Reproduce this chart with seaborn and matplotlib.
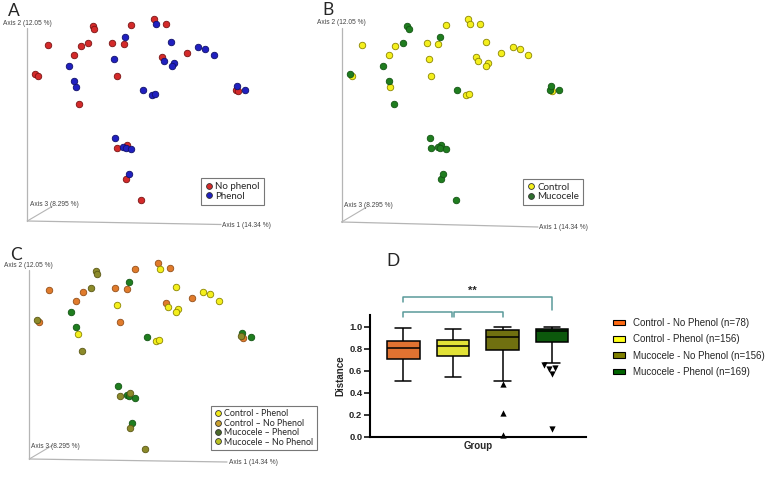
import numpy as np
import pandas as pd
import matplotlib.pyplot as plt
import seaborn as sb
from matplotlib.lines import Line2D
from matplotlib.patches import Patch

sb.set_style("white")
plt.rcParams['font.family'] = ['Liberation Sans', 'DejaVu Sans']

# PCoA samples, projected positions on the 3D view (panel A screen units, y down)
pc_x = [153.7, 165.7, 131.3, 93.0, 94.3, 47.7, 80.7, 88.3, 112.3, 123.7, 74.3, 161.7,
        187.0, 35.3, 38.0, 117.0, 79.3, 235.7, 237.7, 126.7, 117.0, 126.3, 141.3,
        156.0, 125.3, 171.3, 198.3, 205.3, 213.7, 114.3, 164.0, 173.7, 172.0, 68.7,
        74.3, 76.0, 143.0, 151.7, 155.0, 236.7, 244.7, 115.3, 123.3, 126.0, 131.3, 128.7]
pc_y = [18.7, 23.7, 24.7, 26.0, 29.0, 45.0, 46.3, 43.0, 42.7, 44.0, 55.3, 57.0,
        52.7, 73.7, 75.7, 75.7, 103.7, 89.7, 91.0, 145.3, 148.0, 179.3, 199.7,
        24.0, 37.0, 41.7, 46.7, 49.0, 55.0, 59.3, 61.3, 63.3, 65.7, 65.7,
        81.0, 87.3, 90.0, 94.7, 93.7, 86.3, 90.3, 137.7, 146.7, 148.3, 149.3, 174.3]
phenol = ['No phenol'] * 23 + ['Phenol'] * 23
group = ['Control', 'Control', 'Control', 'Mucocele', 'Mucocele', 'Control', 'Control',
         'Mucocele', 'Control', 'Control', 'Control', 'Control', 'Control', 'Mucocele',
         'Control', 'Control', 'Mucocele', 'Mucocele', 'Control', 'Mucocele', 'Mucocele',
         'Mucocele', 'Mucocele',
         'Control', 'Mucocele', 'Control', 'Control', 'Control', 'Control', 'Control',
         'Control', 'Control', 'Control', 'Mucocele', 'Mucocele', 'Control', 'Mucocele',
         'Control', 'Control', 'Mucocele', 'Mucocele', 'Mucocele', 'Mucocele', 'Mucocele',
         'Mucocele', 'Mucocele']

# panel D: distances
box_groups = ['Control - No Phenol', 'Control - Phenol', 'Mucocele - No Phenol', 'Mucocele - Phenol']
box_n = [78, 156, 156, 169]
whis_low = [0.509, 0.545, 0.509, 0.676]
box_q1 = [0.712, 0.739, 0.791, 0.867]
box_med = [0.806, 0.827, 0.906, 0.964]
box_q3 = [0.873, 0.882, 0.973, 0.985]
whis_high = [0.994, 0.985, 1.0, 1.0]
out_muc_nophenol = [0.482, 0.221, 0.018]
out_muc_phenol = [0.630, 0.657, 0.618, 0.570, 0.070]
box_colors = ['#ff6a13', '#ffff1a', '#808000', '#006400']

W, H = 772, 478
fig = plt.figure(figsize=(7.72, 4.78), dpi=100)

deco = fig.add_axes([0, 0, 1, 1])
deco.set_xlim(0, W)
deco.set_ylim(H, 0)
deco.axis('off')

df = pd.DataFrame({'x': pc_x, 'y': pc_y, 'phenol': phenol, 'group': group})
df['combo'] = df['group'] + ' ' + df['phenol']


def panel(left, top, sx=1.0, sy=1.0):
    pw, ph = 300, 240
    ax = fig.add_axes([left / W, 1 - (top + ph * sy) / H, pw * sx / W, ph * sy / H])
    ax.set_xlim(0, pw)
    ax.set_ylim(ph, 0)
    ax.axis('off')
    return ax


def frame3d(vx, vtop, vbot, rx, ry, dx, dy, a2, a3, a1):
    gc = '#b5b5b5'
    deco.plot([vx, vx], [vtop, vbot], color=gc, lw=0.9)
    deco.plot([vx, rx], [vbot, ry], color=gc, lw=0.9)
    deco.plot([vx, dx], [vbot, dy], color=gc, lw=0.8)
    kw = dict(fontsize=4.8, color='#444444', va='center', ha='left')
    deco.text(a2[0], a2[1], 'Axis 2 (12.05 %)', **kw)
    deco.text(a3[0], a3[1], 'Axis 3 (8.295 %)', **kw)
    deco.text(a1[0], a1[1], 'Axis 1 (14.34 %)', **kw)


def draw_points(ax, col, styles):
    for key, (fc, ec) in styles.items():
        sub = df[df[col] == key]
        sb.scatterplot(data=sub, x='x', y='y', color=fc, edgecolor=ec, linewidth=0.6,
                       s=22, ax=ax, legend=False, zorder=3)
    ax.set_xlim(0, 300)
    ax.set_ylim(240, 0)
    ax.axis('off')


def small_legend(ax, labels, fcs, anchor, fs):
    hs = [Line2D([], [], marker='o', ls='', markerfacecolor=c, markeredgecolor='#333333',
                 markeredgewidth=0.6, markersize=4.2) for c in fcs]
    leg = ax.legend(hs, labels, loc='upper left', bbox_to_anchor=(anchor[0] / W, 1 - anchor[1] / H),
                    bbox_transform=fig.transFigure, frameon=True, fancybox=False,
                    borderpad=0.4, handletextpad=0.25, labelspacing=0.05, handlelength=0.8,
                    borderaxespad=0, prop={'family': 'Lato', 'size': fs})
    leg.get_frame().set_edgecolor('#555555')
    leg.get_frame().set_linewidth(0.8)


yellow = ('#f4ef1c', '#8c8600')
green = ('#1f7d1f', '#135513')

# A
axA = panel(0, 0)
frame3d(27.3, 28, 221, 221, 224.5, 52, 206.5, (2.7, 23.7), (30, 204.7), (221.7, 225))
draw_points(axA, 'phenol', {'No phenol': ('#d42a2a', '#7a1414'), 'Phenol': ('#2020c0', '#10106a')})
small_legend(axA, ['No phenol', 'Phenol'], ['#d42a2a', '#2020c0'], (201.3, 178.3), 7)

# B
axB = panel(314.3, 0)
frame3d(341.6, 28, 222, 538, 227, 366, 207.5, (316.7, 22.7), (344, 205.5), (539.3, 227))
draw_points(axB, 'group', {'Control': yellow, 'Mucocele': green})
small_legend(axB, ['Control', 'Mucocele'], ['#f4ef1c', '#2f6f2f'], (523.3, 179), 7)

# C
axC = panel(0.6, 244.1, 1.0215, 1.0276)
frame3d(29.3, 270, 459, 227, 462, 53, 445, (4, 265.7), (30.7, 446.7), (229, 462.5))
draw_points(axC, 'combo', {'Control No phenol': ('#e07b2c', '#94501a'),
                           'Control Phenol': yellow,
                           'Mucocele Phenol': green,
                           'Mucocele No phenol': ('#8c8a2a', '#5a5815')})
small_legend(axC, ['Control - Phenol', 'Control \u2013 No Phenol', 'Mucocele \u2013 Phenol',
                   'Mucocele \u2013 No Phenol'],
             ['#f0e81a', '#c8a030', '#4d6b2a', '#b8c020'], (211, 405.7), 6.4)

# panel letters
for lt, (lx, ly) in zip('ABCD', [(8, 15.5), (322.5, 15), (10, 259.5), (386, 266)]):
    deco.text(lx, ly, lt, fontsize=12.5, family='Lato', va='baseline', ha='left')

# D
box_df = pd.DataFrame({
    'group': np.repeat(box_groups, 5),
    'dist': np.column_stack([whis_low, box_q1, box_med, box_q3, whis_high]).ravel(),
})
axD = fig.add_axes([370 / W, (H - 437) / H, 216 / W, 122 / H])
sb.boxplot(data=box_df, x='group', y='dist', hue='group', order=box_groups, hue_order=box_groups,
           palette=box_colors, whis=(0, 100), width=0.655, linewidth=1.1, linecolor='black',
           showfliers=False, legend=False, ax=axD)
sb.swarmplot(x=['Mucocele - No Phenol'] * len(out_muc_nophenol), y=out_muc_nophenol, order=box_groups,
             marker='^', color='black', size=4.5, ax=axD, clip_on=False)
sb.swarmplot(x=['Mucocele - Phenol'] * len(out_muc_phenol), y=out_muc_phenol, order=box_groups,
             marker='v', color='black', size=4.5, ax=axD, clip_on=False)
axD.set_xlim(-0.67, 3.68)
axD.set_ylim(0, 1.109)
axD.set_yticks(np.arange(0, 1.01, 0.2))
axD.set_yticklabels(['%.1f' % v for v in np.arange(0, 1.01, 0.2)], fontweight='bold')
axD.set_xticks([])
axD.tick_params(axis='y', length=4, width=1.3, pad=1.5, labelsize=6.8, left=True)
axD.set_xlabel('Group', fontsize=7, fontweight='bold', labelpad=3)
axD.set_ylabel('Distance', fontsize=7, fontweight='bold', labelpad=3)
sb.despine(ax=axD)
for sp in ['left', 'bottom']:
    axD.spines[sp].set_linewidth(1.5)
    axD.spines[sp].set_color('black')

# significance brackets
bc = '#5a9a9a'
axD.plot([0, 0, 3, 3], [1.225, 1.273, 1.273, 1.154], color=bc, lw=1.1, clip_on=False)
axD.plot([0, 0, 0.99, 0.99], [1.094, 1.134, 1.134, 1.094], color=bc, lw=1.1, clip_on=False)
axD.plot([1.03, 1.03, 2, 2], [1.094, 1.134, 1.134, 1.094], color=bc, lw=1.1, clip_on=False)
axD.text(1.4, 1.327, '**', ha='center', va='center', fontsize=8, fontweight='bold', clip_on=False)

hs = [Patch(facecolor=c, edgecolor='black', linewidth=0.8) for c in box_colors]
labs = ['%s (n=%d)' % (g, n) for g, n in zip(box_groups, box_n)]
axD.legend(hs, labs, loc='upper left', bbox_to_anchor=(613 / W, 1 - 318 / H),
           bbox_transform=fig.transFigure, frameon=False, fontsize=7, borderpad=0,
           borderaxespad=0, handlelength=1.2, handleheight=0.55, handletextpad=0.9,
           labelspacing=0.65)

plt.savefig('out.png', dpi=100)
